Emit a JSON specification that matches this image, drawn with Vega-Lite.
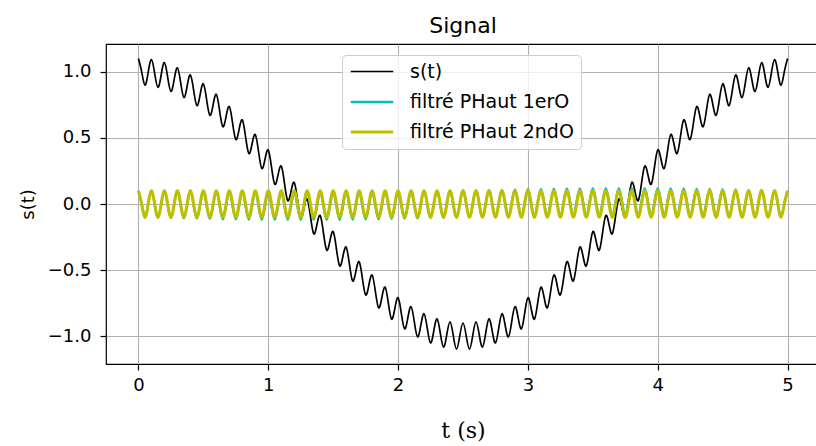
{
"$schema": "https://vega.github.io/schema/vega-lite/v6.json",
"width": 714, "height": 320,
"autosize": {"type": "none"},
"padding": {"left": 106, "top": 44, "right": 0, "bottom": 82},
"background": "white",
"config": {"font": "DejaVu Sans", "view": {"stroke": "black", "strokeWidth": 1.2}},
"title": {"text": "Signal", "fontSize": 22, "fontWeight": "normal", "color": "black", "baseline": "bottom", "offset": 6, "dy": 22, "anchor": "middle", "frame": "group"},
"data": {"values": [
{"t":0,"s":1.1,"a":0.1,"b":0.1},
{"t":0.025,"s":0.999,"a":-0.001,"b":0},
{"t":0.05,"s":0.898,"a":-0.101,"b":-0.1},
{"t":0.075,"s":0.996,"a":-0.002,"b":0},
{"t":0.1,"s":1.092,"a":0.097,"b":0.1},
{"t":0.125,"s":0.988,"a":-0.003,"b":0},
{"t":0.15,"s":0.882,"a":-0.104,"b":-0.1},
{"t":0.175,"s":0.976,"a":-0.004,"b":0},
{"t":0.2,"s":1.069,"a":0.095,"b":0.1},
{"t":0.225,"s":0.96,"a":-0.006,"b":0},
{"t":0.25,"s":0.851,"a":-0.106,"b":-0.1},
{"t":0.275,"s":0.941,"a":-0.007,"b":0},
{"t":0.3,"s":1.03,"a":0.093,"b":0.1},
{"t":0.325,"s":0.918,"a":-0.008,"b":0},
{"t":0.35,"s":0.805,"a":-0.109,"b":-0.1},
{"t":0.375,"s":0.891,"a":-0.009,"b":0},
{"t":0.4,"s":0.976,"a":0.09,"b":0.1},
{"t":0.425,"s":0.861,"a":-0.01,"b":0},
{"t":0.45,"s":0.744,"a":-0.111,"b":-0.1},
{"t":0.475,"s":0.827,"a":-0.011,"b":0},
{"t":0.5,"s":0.909,"a":0.088,"b":0.1},
{"t":0.525,"s":0.79,"a":-0.012,"b":0},
{"t":0.55,"s":0.671,"a":-0.113,"b":-0.1},
{"t":0.575,"s":0.75,"a":-0.013,"b":0},
{"t":0.6,"s":0.829,"a":0.086,"b":0.1},
{"t":0.625,"s":0.707,"a":-0.014,"b":0},
{"t":0.65,"s":0.585,"a":-0.115,"b":-0.1},
{"t":0.675,"s":0.661,"a":-0.015,"b":0},
{"t":0.7,"s":0.737,"a":0.085,"b":0.1},
{"t":0.725,"s":0.613,"a":-0.016,"b":0},
{"t":0.75,"s":0.488,"a":-0.116,"b":-0.1},
{"t":0.775,"s":0.562,"a":-0.017,"b":0},
{"t":0.8,"s":0.636,"a":0.083,"b":0.1},
{"t":0.825,"s":0.509,"a":-0.017,"b":0},
{"t":0.85,"s":0.382,"a":-0.118,"b":-0.1},
{"t":0.875,"s":0.454,"a":-0.018,"b":0},
{"t":0.9,"s":0.526,"a":0.082,"b":0.1},
{"t":0.925,"s":0.397,"a":-0.018,"b":0},
{"t":0.95,"s":0.268,"a":-0.119,"b":-0.1},
{"t":0.975,"s":0.339,"a":-0.019,"b":0},
{"t":1,"s":0.409,"a":0.081,"b":0.1},
{"t":1.025,"s":0.279,"a":-0.019,"b":0},
{"t":1.05,"s":0.149,"a":-0.119,"b":-0.1},
{"t":1.075,"s":0.218,"a":-0.02,"b":0},
{"t":1.1,"s":0.287,"a":0.08,"b":0.1},
{"t":1.125,"s":0.156,"a":-0.02,"b":0},
{"t":1.15,"s":0.025,"a":-0.12,"b":-0.1},
{"t":1.175,"s":0.094,"a":-0.02,"b":0},
{"t":1.2,"s":0.163,"a":0.08,"b":0.1},
{"t":1.225,"s":0.031,"a":-0.02,"b":0},
{"t":1.25,"s":-0.1,"a":-0.12,"b":-0.1},
{"t":1.275,"s":-0.031,"a":-0.02,"b":0},
{"t":1.3,"s":0.037,"a":0.08,"b":0.1},
{"t":1.325,"s":-0.094,"a":-0.02,"b":0},
{"t":1.35,"s":-0.225,"a":-0.12,"b":-0.1},
{"t":1.375,"s":-0.156,"a":-0.02,"b":0},
{"t":1.4,"s":-0.087,"a":0.08,"b":0.1},
{"t":1.425,"s":-0.218,"a":-0.02,"b":0},
{"t":1.45,"s":-0.349,"a":-0.119,"b":-0.1},
{"t":1.475,"s":-0.279,"a":-0.019,"b":0},
{"t":1.5,"s":-0.209,"a":0.081,"b":0.1},
{"t":1.525,"s":-0.339,"a":-0.019,"b":0},
{"t":1.55,"s":-0.468,"a":-0.119,"b":-0.1},
{"t":1.575,"s":-0.397,"a":-0.018,"b":0},
{"t":1.6,"s":-0.326,"a":0.082,"b":0.1},
{"t":1.625,"s":-0.454,"a":-0.018,"b":0},
{"t":1.65,"s":-0.582,"a":-0.118,"b":-0.1},
{"t":1.675,"s":-0.509,"a":-0.017,"b":0},
{"t":1.7,"s":-0.436,"a":0.083,"b":0.1},
{"t":1.725,"s":-0.562,"a":-0.017,"b":0},
{"t":1.75,"s":-0.688,"a":-0.116,"b":-0.1},
{"t":1.775,"s":-0.613,"a":-0.016,"b":0},
{"t":1.8,"s":-0.537,"a":0.085,"b":0.1},
{"t":1.825,"s":-0.661,"a":-0.015,"b":0},
{"t":1.85,"s":-0.785,"a":-0.115,"b":-0.1},
{"t":1.875,"s":-0.707,"a":-0.014,"b":0},
{"t":1.9,"s":-0.629,"a":0.086,"b":0.1},
{"t":1.925,"s":-0.75,"a":-0.013,"b":0},
{"t":1.95,"s":-0.871,"a":-0.113,"b":-0.1},
{"t":1.975,"s":-0.79,"a":-0.012,"b":0},
{"t":2,"s":-0.709,"a":0.088,"b":0.1},
{"t":2.025,"s":-0.827,"a":-0.011,"b":0},
{"t":2.05,"s":-0.944,"a":-0.111,"b":-0.1},
{"t":2.075,"s":-0.861,"a":-0.01,"b":0},
{"t":2.1,"s":-0.776,"a":0.09,"b":0.1},
{"t":2.125,"s":-0.891,"a":-0.009,"b":0},
{"t":2.15,"s":-1.005,"a":-0.109,"b":-0.1},
{"t":2.175,"s":-0.918,"a":-0.008,"b":0},
{"t":2.2,"s":-0.83,"a":0.093,"b":0.1},
{"t":2.225,"s":-0.941,"a":-0.007,"b":0},
{"t":2.25,"s":-1.051,"a":-0.106,"b":-0.1},
{"t":2.275,"s":-0.96,"a":-0.006,"b":0},
{"t":2.3,"s":-0.869,"a":0.095,"b":0.1},
{"t":2.325,"s":-0.976,"a":-0.004,"b":0},
{"t":2.35,"s":-1.082,"a":-0.104,"b":-0.1},
{"t":2.375,"s":-0.988,"a":-0.003,"b":0},
{"t":2.4,"s":-0.892,"a":0.097,"b":0.1},
{"t":2.425,"s":-0.996,"a":-0.002,"b":0},
{"t":2.45,"s":-1.098,"a":-0.101,"b":-0.1},
{"t":2.475,"s":-0.999,"a":-0.001,"b":0},
{"t":2.5,"s":-0.9,"a":0.1,"b":0.1},
{"t":2.525,"s":-0.999,"a":0.001,"b":0},
{"t":2.55,"s":-1.098,"a":-0.099,"b":-0.1},
{"t":2.575,"s":-0.996,"a":0.002,"b":0},
{"t":2.6,"s":-0.892,"a":0.103,"b":0.1},
{"t":2.625,"s":-0.988,"a":0.003,"b":0},
{"t":2.65,"s":-1.082,"a":-0.096,"b":-0.1},
{"t":2.675,"s":-0.976,"a":0.004,"b":0},
{"t":2.7,"s":-0.869,"a":0.105,"b":0.1},
{"t":2.725,"s":-0.96,"a":0.006,"b":0},
{"t":2.75,"s":-1.051,"a":-0.094,"b":-0.1},
{"t":2.775,"s":-0.941,"a":0.007,"b":0},
{"t":2.8,"s":-0.83,"a":0.107,"b":0.1},
{"t":2.825,"s":-0.918,"a":0.008,"b":0},
{"t":2.85,"s":-1.005,"a":-0.091,"b":-0.1},
{"t":2.875,"s":-0.891,"a":0.009,"b":0},
{"t":2.9,"s":-0.776,"a":0.11,"b":0.1},
{"t":2.925,"s":-0.861,"a":0.01,"b":0},
{"t":2.95,"s":-0.944,"a":-0.089,"b":-0.1},
{"t":2.975,"s":-0.827,"a":0.011,"b":0},
{"t":3,"s":-0.709,"a":0.112,"b":0.1},
{"t":3.025,"s":-0.79,"a":0.012,"b":0},
{"t":3.05,"s":-0.871,"a":-0.087,"b":-0.1},
{"t":3.075,"s":-0.75,"a":0.013,"b":0},
{"t":3.1,"s":-0.629,"a":0.114,"b":0.1},
{"t":3.125,"s":-0.707,"a":0.014,"b":0},
{"t":3.15,"s":-0.785,"a":-0.085,"b":-0.1},
{"t":3.175,"s":-0.661,"a":0.015,"b":0},
{"t":3.2,"s":-0.537,"a":0.115,"b":0.1},
{"t":3.225,"s":-0.613,"a":0.016,"b":0},
{"t":3.25,"s":-0.688,"a":-0.084,"b":-0.1},
{"t":3.275,"s":-0.562,"a":0.017,"b":0},
{"t":3.3,"s":-0.436,"a":0.117,"b":0.1},
{"t":3.325,"s":-0.509,"a":0.017,"b":0},
{"t":3.35,"s":-0.582,"a":-0.082,"b":-0.1},
{"t":3.375,"s":-0.454,"a":0.018,"b":0},
{"t":3.4,"s":-0.326,"a":0.118,"b":0.1},
{"t":3.425,"s":-0.397,"a":0.018,"b":0},
{"t":3.45,"s":-0.468,"a":-0.081,"b":-0.1},
{"t":3.475,"s":-0.339,"a":0.019,"b":0},
{"t":3.5,"s":-0.209,"a":0.119,"b":0.1},
{"t":3.525,"s":-0.279,"a":0.019,"b":0},
{"t":3.55,"s":-0.349,"a":-0.081,"b":-0.1},
{"t":3.575,"s":-0.218,"a":0.02,"b":0},
{"t":3.6,"s":-0.087,"a":0.12,"b":0.1},
{"t":3.625,"s":-0.156,"a":0.02,"b":0},
{"t":3.65,"s":-0.225,"a":-0.08,"b":-0.1},
{"t":3.675,"s":-0.094,"a":0.02,"b":0},
{"t":3.7,"s":0.037,"a":0.12,"b":0.1},
{"t":3.725,"s":-0.031,"a":0.02,"b":0},
{"t":3.75,"s":-0.1,"a":-0.08,"b":-0.1},
{"t":3.775,"s":0.031,"a":0.02,"b":0},
{"t":3.8,"s":0.163,"a":0.12,"b":0.1},
{"t":3.825,"s":0.094,"a":0.02,"b":0},
{"t":3.85,"s":0.025,"a":-0.08,"b":-0.1},
{"t":3.875,"s":0.156,"a":0.02,"b":0},
{"t":3.9,"s":0.287,"a":0.12,"b":0.1},
{"t":3.925,"s":0.218,"a":0.02,"b":0},
{"t":3.95,"s":0.149,"a":-0.081,"b":-0.1},
{"t":3.975,"s":0.279,"a":0.019,"b":0},
{"t":4,"s":0.409,"a":0.119,"b":0.1},
{"t":4.025,"s":0.339,"a":0.019,"b":0},
{"t":4.05,"s":0.268,"a":-0.081,"b":-0.1},
{"t":4.075,"s":0.397,"a":0.018,"b":0},
{"t":4.1,"s":0.526,"a":0.118,"b":0.1},
{"t":4.125,"s":0.454,"a":0.018,"b":0},
{"t":4.15,"s":0.382,"a":-0.082,"b":-0.1},
{"t":4.175,"s":0.509,"a":0.017,"b":0},
{"t":4.2,"s":0.636,"a":0.117,"b":0.1},
{"t":4.225,"s":0.562,"a":0.017,"b":0},
{"t":4.25,"s":0.488,"a":-0.084,"b":-0.1},
{"t":4.275,"s":0.613,"a":0.016,"b":0},
{"t":4.3,"s":0.737,"a":0.115,"b":0.1},
{"t":4.325,"s":0.661,"a":0.015,"b":0},
{"t":4.35,"s":0.585,"a":-0.085,"b":-0.1},
{"t":4.375,"s":0.707,"a":0.014,"b":0},
{"t":4.4,"s":0.829,"a":0.114,"b":0.1},
{"t":4.425,"s":0.75,"a":0.013,"b":0},
{"t":4.45,"s":0.671,"a":-0.087,"b":-0.1},
{"t":4.475,"s":0.79,"a":0.012,"b":0},
{"t":4.5,"s":0.909,"a":0.112,"b":0.1},
{"t":4.525,"s":0.827,"a":0.011,"b":0},
{"t":4.55,"s":0.744,"a":-0.089,"b":-0.1},
{"t":4.575,"s":0.861,"a":0.01,"b":0},
{"t":4.6,"s":0.976,"a":0.11,"b":0.1},
{"t":4.625,"s":0.891,"a":0.009,"b":0},
{"t":4.65,"s":0.805,"a":-0.091,"b":-0.1},
{"t":4.675,"s":0.918,"a":0.008,"b":0},
{"t":4.7,"s":1.03,"a":0.107,"b":0.1},
{"t":4.725,"s":0.941,"a":0.007,"b":0},
{"t":4.75,"s":0.851,"a":-0.094,"b":-0.1},
{"t":4.775,"s":0.96,"a":0.006,"b":0},
{"t":4.8,"s":1.069,"a":0.105,"b":0.1},
{"t":4.825,"s":0.976,"a":0.004,"b":0},
{"t":4.85,"s":0.882,"a":-0.096,"b":-0.1},
{"t":4.875,"s":0.988,"a":0.003,"b":0},
{"t":4.9,"s":1.092,"a":0.103,"b":0.1},
{"t":4.925,"s":0.996,"a":0.002,"b":0},
{"t":4.95,"s":0.898,"a":-0.099,"b":-0.1},
{"t":4.975,"s":0.999,"a":0.001,"b":0},
{"t":5,"s":1.1,"a":0.1,"b":0.1}
]},
"transform": [{"fold": ["s", "a", "b"], "as": ["key", "val"]}],
"mark": {"type": "line", "interpolate": "natural"},
"encoding": {
  "x": {"field": "t", "type": "quantitative",
        "scale": {"domain": [-0.25, 5.25], "nice": false, "zero": false},
        "axis": {"values": [0, 1, 2, 3, 4, 5], "format": "d", "title": "t (s)",
                 "titleFont": "DejaVu Serif", "titleFontSize": 22, "titleFontWeight": "normal", "titleColor": "black", "titlePadding": 26,
                 "labelFontSize": 18, "labelColor": "black", "labelPadding": 6, "labelFlush": false,
                 "tickColor": "black", "tickSize": 6, "tickWidth": 1.2, "domain": false,
                 "grid": true, "gridColor": "#b0b0b0", "gridWidth": 1.1, "gridOpacity": 1}},
  "y": {"field": "val", "type": "quantitative",
        "scale": {"domain": [-1.21, 1.21], "nice": false, "zero": false},
        "axis": {"values": [-1, -0.5, 0, 0.5, 1], "format": ".1f", "title": "s(t)",
                 "titleFontSize": 18, "titleFontWeight": "normal", "titleColor": "black", "titlePadding": 10,
                 "labelFontSize": 18, "labelColor": "black", "labelPadding": 9,
                 "tickColor": "black", "tickSize": 6, "tickWidth": 1.2, "domain": false,
                 "grid": true, "gridColor": "#b0b0b0", "gridWidth": 1.1, "gridOpacity": 1}},
  "color": {"field": "key", "type": "nominal",
            "scale": {"domain": ["s", "a", "b"], "range": ["#000000", "#00bfbf", "#bfbf00"]},
            "legend": {"title": null, "orient": "none", "legendX": 236, "legendY": 11, "direction": "vertical",
                       "labelExpr": "datum.value === 's' ? 's(t)' : datum.value === 'a' ? 'filtré PHaut 1erO' : 'filtré PHaut 2ndO'",
                       "labelFontSize": 19, "labelColor": "black", "labelFont": "DejaVu Sans", "labelLimit": 400,
                       "symbolType": "M-2.5,0L2.5,0", "symbolSize": 289, "symbolStrokeWidth": 3,
                       "symbolOffset": 13, "labelOffset": 28, "rowPadding": 10, "padding": 7,
                       "fillColor": "rgba(255,255,255,0.8)", "strokeColor": "#cccccc", "cornerRadius": 4,
                       "encode": {"symbols": {"update": {"strokeWidth": {"signal": "datum.value === 's' ? 1.6 : 3.5"}}}}}},
  "strokeWidth": {"field": "key", "type": "ordinal",
                  "scale": {"domain": ["s", "a", "b"], "range": [1.7, 3, 3]}, "legend": null}
}
}
